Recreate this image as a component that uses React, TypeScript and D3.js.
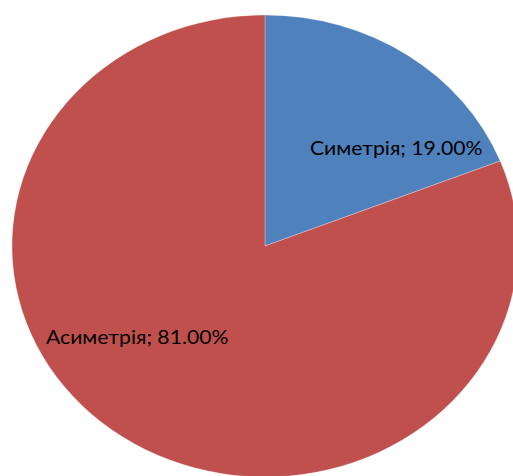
import React from 'react';
import * as d3 from 'd3';

const categories = ['Симетрія', 'Асиметрія'];
const values = [19, 81];
const colors = ['#4F81BD', '#C0504D'];
// label placement (best-fit spots as in the original)
const labelPos: [number, number][] = [
  [310, 155],
  [46, 344],
];

const width = 513;
const height = 476;
const cx = 265;
const cy = 246;
const rx = 253;
const ry = 231;
const textStretch = 1.06;

const App: React.FC = () => {
  const pie = d3
    .pie<number>()
    .sort(null)
    .value((d) => d);
  const arcs = pie(values);
  const arc = d3.arc<d3.PieArcDatum<number>>().innerRadius(0).outerRadius(rx);
  const total = d3.sum(values);

  return (
    <svg
      width={width}
      height={height}
      style={{ position: 'absolute', left: 0, top: 0, background: '#fff' }}
    >
      <g transform={`translate(${cx},${cy}) scale(1,${ry / rx})`}>
        {arcs.map((a, i) => (
          <path key={i} d={arc(a) || ''} fill={colors[i]} stroke="#fff" strokeWidth={0.3} />
        ))}
      </g>
      {arcs.map((a, i) => (
        <text
          key={'t' + i}
          transform={`translate(${labelPos[i][0]},${labelPos[i][1]}) scale(${textStretch},1)`}
          fontFamily="Lato, 'Open Sans', sans-serif"
          fontSize={20}
          fill="#000"
        >
          {`${categories[i]}; ${((a.value / total) * 100).toFixed(2)}%`}
        </text>
      ))}
    </svg>
  );
};

export default App;
